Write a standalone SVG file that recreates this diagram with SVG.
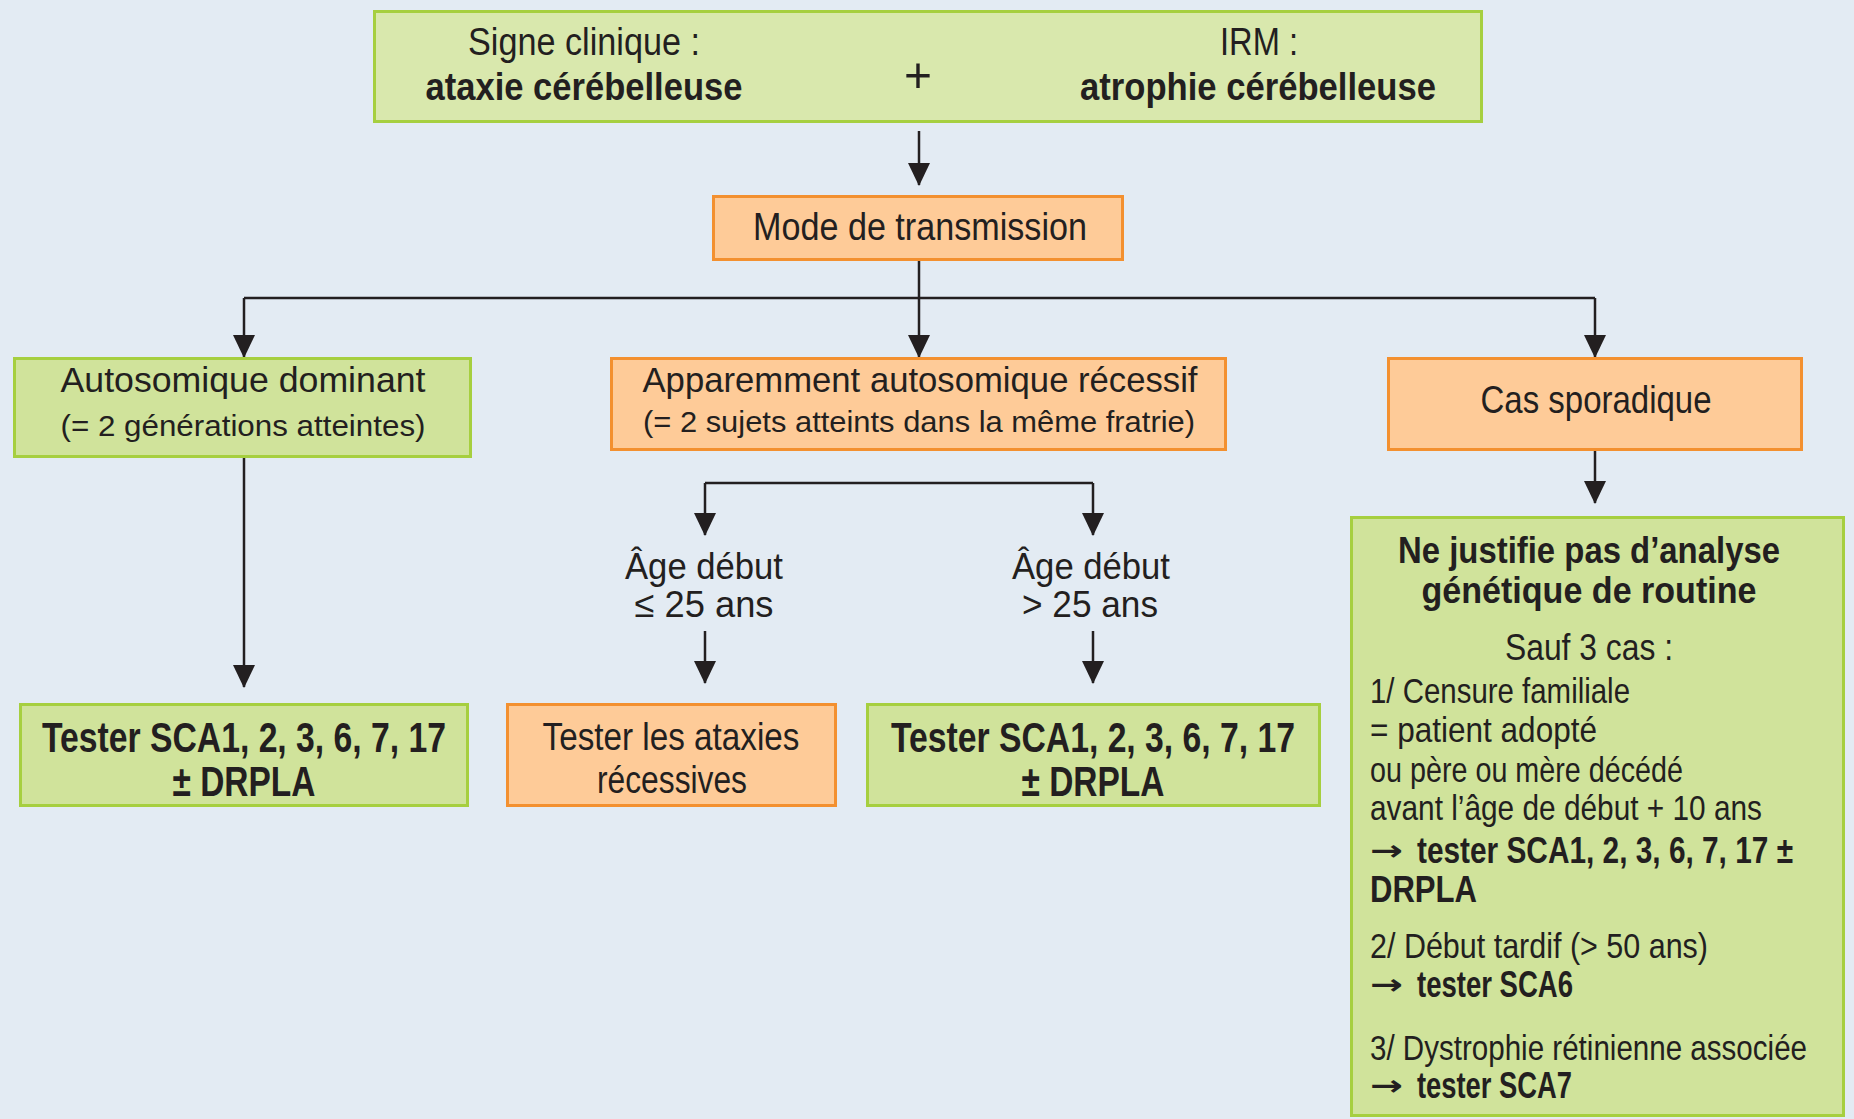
<svg xmlns="http://www.w3.org/2000/svg" width="1854" height="1119" viewBox="0 0 1854 1119">
<style>
.bg{fill:#e3ebf3}
.g{fill:#d0e39b;stroke:#a6cf3f;stroke-width:3}
.g2{fill:#d9e8ad;stroke:#a6cf3f;stroke-width:3}
.o{fill:#fecb98;stroke:#f3902f;stroke-width:3}
text{font-family:"Liberation Sans",Arial,sans-serif;fill:#231f20}
.c{text-anchor:middle}
.b{font-weight:bold}
.ar{font-family:"DejaVu Sans",sans-serif;font-weight:bold}
.conn path{fill:none;stroke:#231f20;stroke-width:2.5}
</style>
<defs>
<marker id="ah" viewBox="0 0 23 22" refX="22" refY="11" markerWidth="23" markerHeight="22" orient="auto" markerUnits="userSpaceOnUse">
<path d="M0,0 L23,11 L0,22 z" fill="#231f20"/>
</marker>
</defs>
<rect class="bg" x="0" y="0" width="1854" height="1119"/>

<g id="connectors" class="conn">
<path d="M919,131 V185" marker-end="url(#ah)"/>
<path d="M919,261 V357" marker-end="url(#ah)"/>
<path d="M244,298 H1595"/>
<path d="M244,298 V357" marker-end="url(#ah)"/>
<path d="M1595,298 V357" marker-end="url(#ah)"/>
<path d="M244,458 V687" marker-end="url(#ah)"/>
<path d="M705,483 H1093"/>
<path d="M705,483 V535" marker-end="url(#ah)"/>
<path d="M1093,483 V535" marker-end="url(#ah)"/>
<path d="M705,631 V683" marker-end="url(#ah)"/>
<path d="M1093,631 V683" marker-end="url(#ah)"/>
<path d="M1595,451 V503" marker-end="url(#ah)"/>
</g>

<g id="n-top">
<rect class="g2" x="374.5" y="11.5" width="1107" height="110"/>
<text x="584" y="55" font-size="39" class="c" textLength="232" lengthAdjust="spacingAndGlyphs">Signe clinique :</text>
<text x="584" y="100" font-size="39" class="c b" textLength="317" lengthAdjust="spacingAndGlyphs">ataxie cérébelleuse</text>
<text x="918" y="92" font-size="50" class="c" textLength="28" lengthAdjust="spacingAndGlyphs">+</text>
<text x="1259" y="55" font-size="39" class="c" textLength="78" lengthAdjust="spacingAndGlyphs">IRM :</text>
<text x="1258" y="100" font-size="39" class="c b" textLength="356" lengthAdjust="spacingAndGlyphs">atrophie cérébelleuse</text>
</g>

<g id="n-mode">
<rect class="o" x="713.5" y="196.5" width="409" height="63"/>
<text x="920" y="240" font-size="38" class="c" textLength="334" lengthAdjust="spacingAndGlyphs">Mode de transmission</text>
</g>

<g id="n-ad">
<rect class="g" x="14.5" y="358.5" width="456" height="98"/>
<text x="243" y="392" font-size="35" class="c" textLength="365" lengthAdjust="spacingAndGlyphs">Autosomique dominant</text>
<text x="243" y="436" font-size="30" class="c" textLength="365" lengthAdjust="spacingAndGlyphs">(= 2 générations atteintes)</text>
</g>

<g id="n-ar">
<rect class="o" x="611.5" y="358.5" width="614" height="91"/>
<text x="920" y="392" font-size="35" class="c" textLength="555" lengthAdjust="spacingAndGlyphs">Apparemment autosomique récessif</text>
<text x="919" y="432" font-size="30" class="c" textLength="552" lengthAdjust="spacingAndGlyphs">(= 2 sujets atteints dans la même fratrie)</text>
</g>

<g id="n-cas">
<rect class="o" x="1388.5" y="358.5" width="413" height="91"/>
<text x="1596" y="413" font-size="39" class="c" textLength="231" lengthAdjust="spacingAndGlyphs">Cas sporadique</text>
</g>

<g id="n-age1">
<text x="704" y="579" font-size="37" class="c" textLength="158" lengthAdjust="spacingAndGlyphs">Âge début</text>
<text x="704" y="617" font-size="37" class="c" textLength="139" lengthAdjust="spacingAndGlyphs">≤ 25 ans</text>
</g>

<g id="n-age2">
<text x="1091" y="579" font-size="37" class="c" textLength="158" lengthAdjust="spacingAndGlyphs">Âge début</text>
<text x="1090" y="617" font-size="37" class="c" textLength="136" lengthAdjust="spacingAndGlyphs">&gt; 25 ans</text>
</g>

<g id="n-t1">
<rect class="g" x="20.5" y="704.5" width="447" height="101"/>
<text x="244" y="752" font-size="42" class="c b" textLength="404" lengthAdjust="spacingAndGlyphs">Tester SCA1, 2, 3, 6, 7, 17</text>
<text x="244" y="796" font-size="42" class="c b" textLength="143" lengthAdjust="spacingAndGlyphs">± DRPLA</text>
</g>

<g id="n-t2">
<rect class="o" x="507.5" y="704.5" width="328" height="101"/>
<text x="671" y="750" font-size="39" class="c" textLength="257" lengthAdjust="spacingAndGlyphs">Tester les ataxies</text>
<text x="672" y="793" font-size="39" class="c" textLength="150" lengthAdjust="spacingAndGlyphs">récessives</text>
</g>

<g id="n-t3">
<rect class="g" x="867.5" y="704.5" width="452" height="101"/>
<text x="1093" y="752" font-size="42" class="c b" textLength="404" lengthAdjust="spacingAndGlyphs">Tester SCA1, 2, 3, 6, 7, 17</text>
<text x="1093" y="796" font-size="42" class="c b" textLength="143" lengthAdjust="spacingAndGlyphs">± DRPLA</text>
</g>

<g id="n-sporadic">
<rect class="g" x="1351.5" y="517.5" width="492" height="598"/>
<text x="1589" y="563" font-size="36" class="c b" textLength="382" lengthAdjust="spacingAndGlyphs">Ne justifie pas d’analyse</text>
<text x="1589" y="603" font-size="36" class="c b" textLength="335" lengthAdjust="spacingAndGlyphs">génétique de routine</text>
<text x="1589" y="660" font-size="36" class="c" textLength="168" lengthAdjust="spacingAndGlyphs">Sauf 3 cas :</text>
<text x="1370" y="703" font-size="35" textLength="260" lengthAdjust="spacingAndGlyphs">1/ Censure familiale</text>
<text x="1370" y="742" font-size="35" textLength="227" lengthAdjust="spacingAndGlyphs">= patient adopté</text>
<text x="1370" y="782" font-size="35" textLength="313" lengthAdjust="spacingAndGlyphs">ou père ou mère décédé</text>
<text x="1370" y="820" font-size="35" textLength="392" lengthAdjust="spacingAndGlyphs">avant l’âge de début + 10 ans</text>
<text x="1370" y="860" font-size="28" class="ar" textLength="33" lengthAdjust="spacingAndGlyphs">→</text>
<text x="1417" y="863" font-size="36" class="b" textLength="376" lengthAdjust="spacingAndGlyphs">tester SCA1, 2, 3, 6, 7, 17 ±</text>
<text x="1370" y="902" font-size="36" class="b" textLength="107" lengthAdjust="spacingAndGlyphs">DRPLA</text>
<text x="1370" y="958" font-size="35" textLength="338" lengthAdjust="spacingAndGlyphs">2/ Début tardif (&gt; 50 ans)</text>
<text x="1370" y="994" font-size="28" class="ar" textLength="33" lengthAdjust="spacingAndGlyphs">→</text>
<text x="1417" y="997" font-size="36" class="b" textLength="156" lengthAdjust="spacingAndGlyphs">tester SCA6</text>
<text x="1370" y="1060" font-size="35" textLength="437" lengthAdjust="spacingAndGlyphs">3/ Dystrophie rétinienne associée</text>
<text x="1370" y="1095" font-size="28" class="ar" textLength="33" lengthAdjust="spacingAndGlyphs">→</text>
<text x="1417" y="1098" font-size="36" class="b" textLength="155" lengthAdjust="spacingAndGlyphs">tester SCA7</text>
</g>
</svg>
